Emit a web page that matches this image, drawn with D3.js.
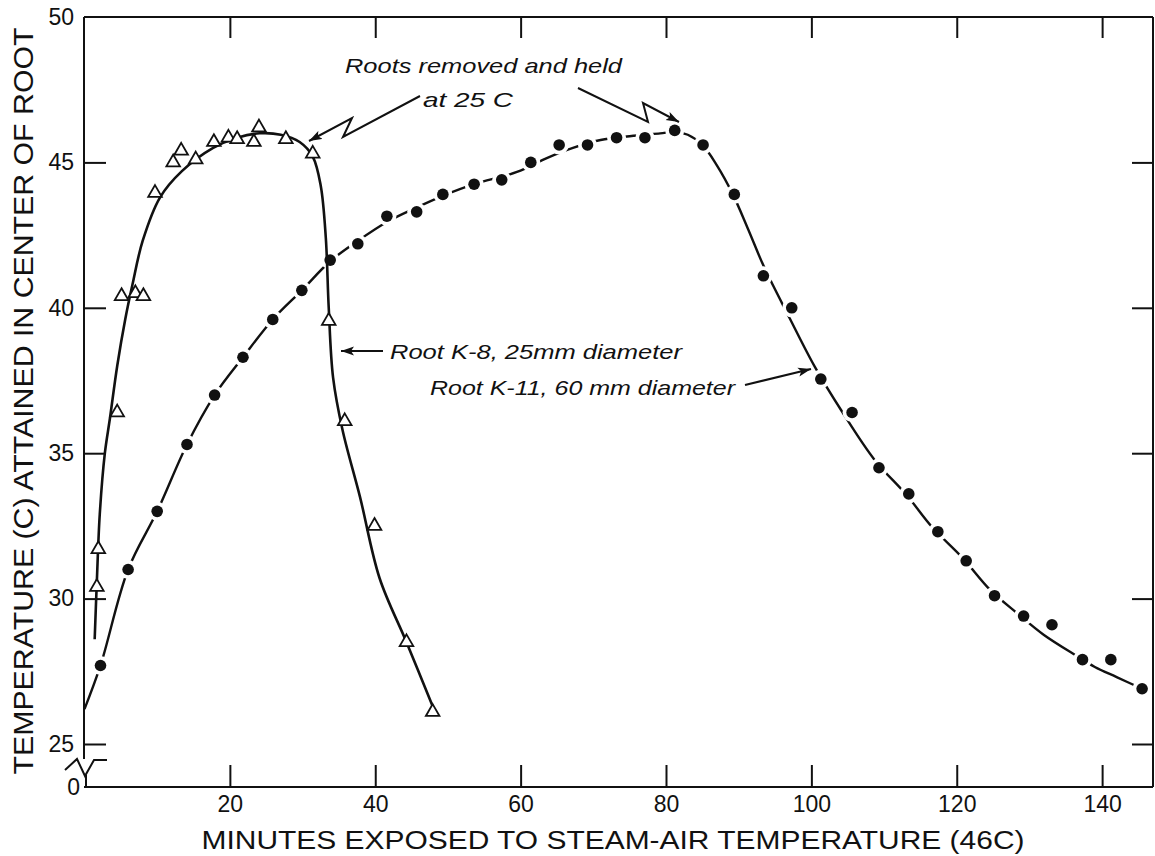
<!DOCTYPE html>
<html>
<head>
<meta charset="utf-8">
<script src="https://cdn.jsdelivr.net/npm/d3@7"></script>
<style>
  html, body { margin: 0; padding: 0; background: #fff; }
  svg { display: block; }
  text { fill: #111; }
</style>
</head>
<body>
<svg id="chart" width="1155" height="856"></svg>
<script>
// ---------------- data ----------------
const xTicks = [20, 40, 60, 80, 100, 120, 140];
const yTicks = [25, 30, 35, 40, 45, 50];
const yInnerTicks = [25, 30, 35, 40, 45];

// Root K-8 (triangles)
const k8Minutes = [1.7, 1.9, 4.5, 5.1, 7.0, 8.1, 9.7, 12.2, 13.3, 15.3, 17.8, 19.8, 21.0, 23.3, 24.0, 27.7, 31.4, 33.6, 35.8, 39.9, 44.3, 47.9];
const k8Temps   = [30.4, 31.7, 36.4, 40.4, 40.5, 40.4, 43.95, 45.0, 45.4, 45.1, 45.7, 45.85, 45.8, 45.7, 46.2, 45.8, 45.3, 39.55, 36.1, 32.5, 28.5, 26.1];

// hand-drawn curve through K-8
const k8CurveMin = [1.4, 1.7, 2.1, 2.8, 3.5, 4.5, 5.6, 6.6, 8.0, 10.4, 13.4, 17.7, 21.0, 24.1, 27.0, 29.6, 31.4, 32.5, 33.2, 33.6, 34.2, 35.5, 37.9, 40.6, 44.3, 47.9];
const k8CurveT   = [28.6, 30.6, 32.9, 35.0, 36.2, 38.0, 39.6, 40.8, 42.3, 43.8, 44.7, 45.5, 45.85, 46.0, 45.95, 45.7, 45.2, 44.2, 42.4, 40.0, 37.6, 35.8, 33.5, 30.7, 28.5, 26.3];

// Root K-11 (filled dots)
const k11Minutes = [2.2, 6.0, 10.0, 14.1, 17.9, 21.8, 25.9, 29.9, 33.8, 37.6, 41.6, 45.7, 49.3, 53.6, 57.4, 61.4, 65.3, 69.2, 73.2, 77.1, 81.2, 85.1, 89.4, 93.4, 97.3, 101.3, 105.6, 109.3, 113.4, 117.4, 121.3, 125.2, 129.2, 133.1, 137.3, 141.2, 145.5];
const k11Temps   = [27.7, 31.0, 33.0, 35.3, 37.0, 38.3, 39.6, 40.6, 41.64, 42.2, 43.15, 43.3, 43.9, 44.25, 44.4, 45.0, 45.6, 45.6, 45.85, 45.85, 46.1, 45.6, 43.9, 41.1, 40.0, 37.55, 36.4, 34.5, 33.6, 32.3, 31.3, 30.1, 29.4, 29.1, 27.9, 27.9, 26.9];

// hand-drawn dashed curve through K-11
const k11CurveMin = [0, 2.2, 6.0, 10.0, 14.1, 17.9, 21.8, 25.9, 29.9, 33.8, 37.6, 41.6, 45.7, 49.3, 53.6, 59.5, 63.6, 67.2, 71.0, 75.0, 79.2, 81.2, 83.0, 85.0, 87.0, 89.2, 91.3, 93.5, 97.0, 100.5, 104.3, 108.7, 113.1, 116.6, 120.8, 124.6, 128.3, 132.0, 136.7, 139.0, 142.0, 145.5];
const k11CurveT   = [26.2, 27.7, 31.0, 33.0, 35.3, 37.0, 38.3, 39.6, 40.6, 41.6, 42.3, 42.95, 43.45, 43.85, 44.25, 44.67, 45.15, 45.5, 45.77, 45.9, 46.0, 46.05, 45.95, 45.6, 44.9, 43.9, 42.7, 41.4, 39.65, 37.96, 36.4, 34.77, 33.56, 32.46, 31.4, 30.3, 29.5, 28.75, 28.0, 27.65, 27.3, 26.9];

const xTitle = "MINUTES EXPOSED TO STEAM-AIR TEMPERATURE (46C)";
const yTitle = "TEMPERATURE (C) ATTAINED IN CENTER OF ROOT";
const noteTop1 = "Roots removed and held";
const noteTop2 = "at 25 C";
const noteK8 = "Root K-8, 25mm diameter";
const noteK11 = "Root K-11, 60 mm diameter";

// ---------------- layout ----------------
const svg = d3.select("#chart");
const x = d3.scaleLinear().domain([0, 147]).range([84.5, 1153]);
const y = d3.scaleLinear().domain([25, 50]).range([744, 17]);
const xLeft = 84, xRight = 1153, yTop = y(50), yBase = 787;
const ink = "#111";
const numFont = "'Liberation Sans', Arial, sans-serif";

// arrow marker
const defs = svg.append("defs");
defs.append("marker")
  .attr("id", "head").attr("viewBox", "-13 -5 13 10")
  .attr("refX", 0).attr("refY", 0)
  .attr("markerWidth", 13).attr("markerHeight", 10)
  .attr("markerUnits", "userSpaceOnUse").attr("orient", "auto")
  .append("path").attr("d", "M-13,-4.5 L0,0 L-13,4.5 L-10,0 Z").attr("fill", ink);

// ---------------- frame ----------------
const frame = svg.append("g").attr("stroke", ink).attr("stroke-width", 2).attr("fill", "none");
frame.append("line").attr("x1", xLeft).attr("x2", xRight).attr("y1", yTop).attr("y2", yTop);
frame.append("line").attr("x1", xRight).attr("x2", xRight).attr("y1", yTop).attr("y2", yBase);
frame.append("line").attr("x1", xLeft).attr("x2", xRight).attr("y1", yBase).attr("y2", yBase);
frame.append("line").attr("x1", xLeft).attr("x2", xLeft).attr("y1", yTop).attr("y2", 759);
frame.append("line").attr("x1", xLeft + 2).attr("x2", xLeft + 2).attr("y1", 775).attr("y2", yBase);
// axis break zigzag
frame.append("path").attr("d", "M65,770 L77,759 L85,776 L94,760 L107,760");

// ---------------- axes ----------------
const styleAxis = g => {
  g.select(".domain").remove();
  g.selectAll(".tick line").attr("stroke", ink).attr("stroke-width", 2);
  g.selectAll(".tick text").attr("fill", ink).style("font-family", numFont).style("font-size", "23px");
};

svg.append("g").attr("transform", `translate(0,${yBase})`)
  .call(d3.axisBottom(x).tickValues(xTicks).tickSize(-22).tickPadding(9))
  .call(styleAxis);

svg.append("g").attr("transform", `translate(0,${yTop})`)
  .call(d3.axisTop(x).tickValues(xTicks).tickSize(-21).tickFormat(""))
  .call(styleAxis);

svg.append("g").attr("transform", `translate(${xLeft},0)`)
  .call(d3.axisLeft(y).tickValues(yTicks).tickSize(-22).tickPadding(10))
  .call(styleAxis)
  .call(g => g.selectAll(".tick").filter(d => d === 50).select("line").remove());

svg.append("g").attr("transform", `translate(${xRight},0)`)
  .call(d3.axisRight(y).tickValues(yInnerTicks).tickSize(-21).tickFormat(""))
  .call(styleAxis);

// the "0" of the broken axis
svg.append("text").attr("x", 80).attr("y", yBase + 8)
  .attr("text-anchor", "end").style("font-family", numFont).style("font-size", "23px").text("0");

// ---------------- titles ----------------
svg.append("text")
  .attr("x", 613).attr("y", 849).attr("text-anchor", "middle")
  .attr("textLength", 823).attr("lengthAdjust", "spacingAndGlyphs")
  .style("font-family", numFont).style("font-size", "26px")
  .text(xTitle);

svg.append("text")
  .attr("transform", "translate(33,401) rotate(-90)")
  .attr("text-anchor", "middle")
  .attr("textLength", 747).attr("lengthAdjust", "spacingAndGlyphs")
  .style("font-family", numFont).style("font-size", "28px")
  .text(yTitle);

// ---------------- curves ----------------
const line = d3.line().x(d => x(d[0])).y(d => y(d[1])).curve(d3.curveCatmullRom.alpha(0.5));

const k11Curve = k11CurveMin.map((m, i) => [m, k11CurveT[i]]);
const k8Curve = k8CurveMin.map((m, i) => [m, k8CurveT[i]]);
const k11Pts = k11Minutes.map((m, i) => [m, k11Temps[i]]);
const k8Pts = k8Minutes.map((m, i) => [m, k8Temps[i]]);

// K-11 line: drawn solid, then broken around every dot (as in the drawing)
svg.append("path").datum(k11Curve)
  .attr("d", line).attr("fill", "none").attr("stroke", ink).attr("stroke-width", 2.4);
svg.append("g").selectAll("circle").data(k11Pts).join("circle")
  .attr("cx", d => x(d[0])).attr("cy", d => y(d[1])).attr("r", 9.5).attr("fill", "#fff");

// K-8 solid line
svg.append("path").datum(k8Curve)
  .attr("d", line).attr("fill", "none").attr("stroke", ink).attr("stroke-width", 2.6);

// dots
svg.append("g").selectAll("circle").data(k11Pts).join("circle")
  .attr("cx", d => x(d[0])).attr("cy", d => y(d[1])).attr("r", 5.8).attr("fill", ink);

// triangles
const tri = d3.symbol(d3.symbolTriangle, 80);
svg.append("g").selectAll("path").data(k8Pts).join("path")
  .attr("transform", d => `translate(${x(d[0])},${y(d[1])})`)
  .attr("d", tri).attr("fill", "#fff").attr("stroke", ink).attr("stroke-width", 1.8);

// ---------------- annotations ----------------
const noteFont = "'Liberation Sans', Arial, sans-serif";
const note = (t, x0, yb, len) => svg.append("text")
  .attr("x", x0).attr("y", yb).attr("textLength", len).attr("lengthAdjust", "spacingAndGlyphs")
  .style("font-family", noteFont).style("font-style", "italic").style("font-size", "21px").text(t);

note(noteTop1, 345, 73, 277);
note(noteTop2, 423, 107, 90);
note(noteK8, 390, 359, 292);
note(noteK11, 430, 395, 305);

const arrows = svg.append("g").attr("fill", "none").attr("stroke", ink).attr("stroke-width", 2);
arrows.append("path").attr("d", "M420,96 L343,137 L352,118 L309,141").attr("marker-end", "url(#head)");
arrows.append("path").attr("d", "M578,88 L648,122 L643,103 L679,122").attr("marker-end", "url(#head)");
arrows.append("path").attr("d", "M383,351 L341,351").attr("marker-end", "url(#head)");
arrows.append("path").attr("d", "M745,385 L811,369").attr("marker-end", "url(#head)");
</script>
</body>
</html>
